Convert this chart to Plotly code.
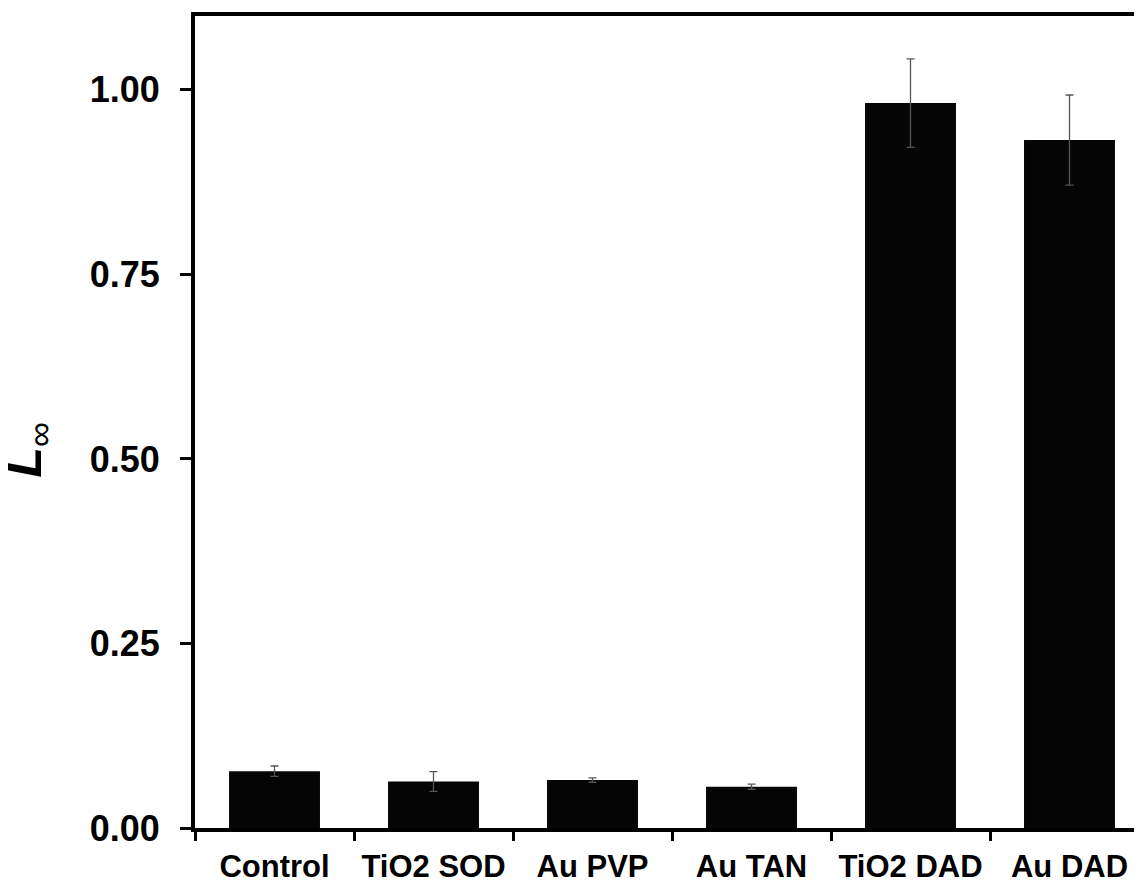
import plotly.graph_objects as go

categories = ["Control", "TiO2 SOD", "Au PVP", "Au TAN", "TiO2 DAD", "Au DAD"]
values = [0.077, 0.063, 0.065, 0.056, 0.982, 0.932]
errors = [0.007, 0.0135, 0.003, 0.0035, 0.060, 0.061]
y_ticks = [0.0, 0.25, 0.5, 0.75, 1.0]
y_title = "<b><i>L</i></b><sub>∞</sub>"

FONT = "Liberation Sans, Arial, sans-serif"

fig = go.Figure(
    go.Bar(
        x=categories,
        y=values,
        marker=dict(color="#050505", line=dict(width=0)),
        error_y=dict(type="data", array=errors, symmetric=True,
                     color="#555555", thickness=1.3, width=4),
    )
)

fig.update_layout(
    width=1134,
    height=876,
    margin=dict(l=187, r=0, t=8, b=54),
    paper_bgcolor="white",
    plot_bgcolor="white",
    bargap=0.428,
    showlegend=False,
    font=dict(family=FONT, color="black"),
)

fig.update_xaxes(
    type="category",
    range=[-0.5, 5.456],
    showline=True,
    linecolor="black",
    linewidth=4,
    mirror=True,
    ticks="outside",
    tickson="boundaries",
    ticklen=9,
    tickwidth=3,
    tickcolor="black",
    tickfont=dict(family=FONT, size=31, color="black", weight="bold"),
    ticklabelstandoff=8,
    showgrid=False,
    zeroline=False,
)

fig.update_yaxes(
    range=[0, 1.1],
    tickvals=y_ticks,
    tickformat=".2f",
    showline=True,
    linecolor="black",
    linewidth=4,
    ticks="outside",
    ticklen=11,
    tickwidth=3,
    tickcolor="black",
    tickfont=dict(family=FONT, size=36, color="black", weight="bold"),
    ticklabelstandoff=13,
    showgrid=False,
    zeroline=False,
)

fig.add_annotation(
    text=y_title,
    xref="paper", x=0, xanchor="right", xshift=-134,
    yref="y", y=0.512, yanchor="middle",
    textangle=-90,
    showarrow=False,
    font=dict(family=FONT, size=50, color="black"),
)

fig.write_html("out.html")
